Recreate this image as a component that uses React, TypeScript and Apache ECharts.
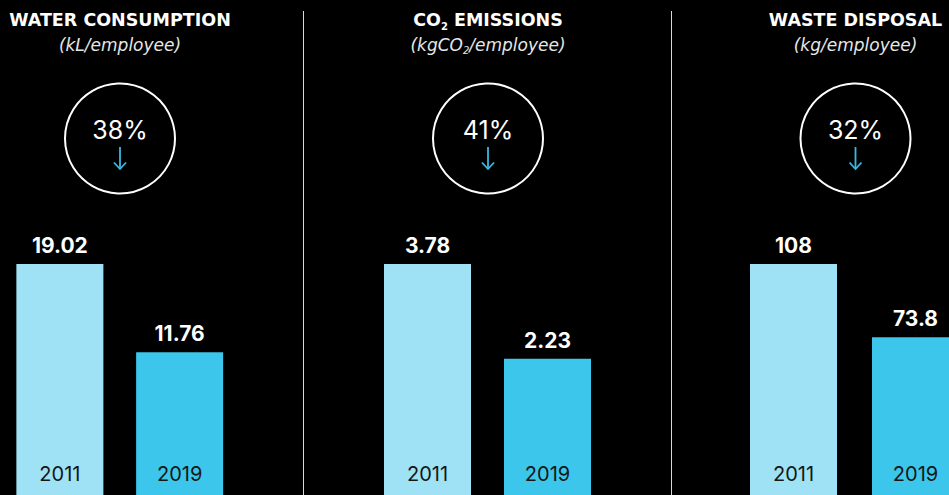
import React, { useEffect, useRef } from "react";
import * as echarts from "echarts";

const years = ["2011", "2019"];
const titles = ["WATER CONSUMPTION", "CO{s|2} EMISSIONS", "WASTE DISPOSAL"];
const subtitles = ["(kL/employee)", "(kgCO{s|2}/employee)", "(kg/employee)"];
const percents = ["38%", "41%", "32%"];
const values2011 = [19.02, 3.78, 108];
const values2019 = [11.76, 2.23, 73.8];

const FONT = "Inter, 'Noto Sans', sans-serif";
const WIDE = "'DejaVu Sans', sans-serif";
const LIGHT = "#9fe2f5";
const DARK = "#3cc6eb";
const ARROW = "#3ab8e2";

// layout per panel
const panelCenters = [120, 488, 855.5];
const gridLefts = [0, 367.5, 732.5];
const gridWidths = [239.5, 240, 244];

export default function App() {
  const ref = useRef<HTMLDivElement>(null);
  useEffect(() => {
    if (!ref.current) return;
    const chart = echarts.init(ref.current, undefined, { renderer: "svg" });
    const grids: any[] = [];
    const xAxes: any[] = [];
    const yAxes: any[] = [];
    const series: any[] = [];
    const graphics: any[] = [];
    for (let i = 0; i < 3; i++) {
      grids.push({ left: gridLefts[i], width: gridWidths[i], top: 264, bottom: 0, containLabel: false });
      xAxes.push({
        type: "category",
        gridIndex: i,
        data: years,
        axisLine: { show: false },
        axisTick: { show: false },
        axisLabel: { inside: true, margin: 11, color: "#161616", fontSize: 20, fontFamily: FONT },
        z: 10,
      });
      yAxes.push({ type: "value", gridIndex: i, min: 0, max: values2011[i], show: false });
      series.push({
        type: "bar",
        xAxisIndex: i,
        yAxisIndex: i,
        barWidth: 87,
        data: [
          { value: values2011[i], itemStyle: { color: LIGHT } },
          { value: values2019[i], itemStyle: { color: DARK } },
        ],
        label: {
          show: true,
          position: "top",
          distance: 8,
          color: "#fff",
          fontSize: 21,
          fontWeight: "bold",
          fontFamily: FONT,
        },
      });
      const cx = panelCenters[i];
      graphics.push({
        type: "text",
        x: cx,
        y: 20,
        style: {
          text: titles[i],
          textAlign: "center",
          textVerticalAlign: "middle",
          fill: "#fff",
          fontSize: 17.5,
          fontWeight: "bold",
          fontFamily: WIDE,
          lineHeight: 22,
          rich: { s: { fontSize: 10, fontWeight: "bold", fill: "#fff", lineHeight: 9, verticalAlign: "bottom", fontFamily: WIDE } },
        },
      });
      graphics.push({
        type: "text",
        x: cx,
        y: 45,
        style: {
          text: subtitles[i],
          textAlign: "center",
          textVerticalAlign: "middle",
          fill: "#e6e6e6",
          fontSize: 17,
          fontStyle: "italic",
          fontFamily: WIDE,
          lineHeight: 21,
          rich: { s: { fontSize: 10, fontStyle: "italic", fill: "#e6e6e6", lineHeight: 8, verticalAlign: "bottom", fontFamily: WIDE } },
        },
      });
      graphics.push({
        type: "circle",
        shape: { cx: cx, cy: 138.5, r: 55 },
        style: { fill: "none", stroke: "#fff", lineWidth: 2 },
      });
      graphics.push({
        type: "text",
        x: cx,
        y: 130,
        style: {
          text: percents[i],
          textAlign: "center",
          textVerticalAlign: "middle",
          fill: "#fff",
          fontSize: 25,
          fontFamily: FONT,
        },
      });
      graphics.push({
        type: "line",
        shape: { x1: cx, y1: 147, x2: cx, y2: 169 },
        style: { stroke: ARROW, lineWidth: 1.8 },
      });
      graphics.push({
        type: "polyline",
        shape: { points: [[cx - 6, 162.5], [cx, 169], [cx + 6, 162.5]] },
        style: { stroke: ARROW, lineWidth: 1.8, fill: "none" },
      });
    }
    [303.5, 671.5].forEach((x) => {
      graphics.push({
        type: "line",
        shape: { x1: x, y1: 11, x2: x, y2: 495 },
        style: { stroke: "#d9d9d9", lineWidth: 1 },
      });
    });
    chart.setOption({
      animation: false,
      backgroundColor: "#000",
      grid: grids,
      xAxis: xAxes,
      yAxis: yAxes,
      series,
      graphic: graphics,
    });
    return () => chart.dispose();
  }, []);
  return (
    <div style={{ position: "fixed", left: 0, top: 0, width: 949, height: 495, overflow: "hidden", background: "#000" }}>
      <div ref={ref} style={{ width: 1000, height: 495 }} />
    </div>
  );
}
